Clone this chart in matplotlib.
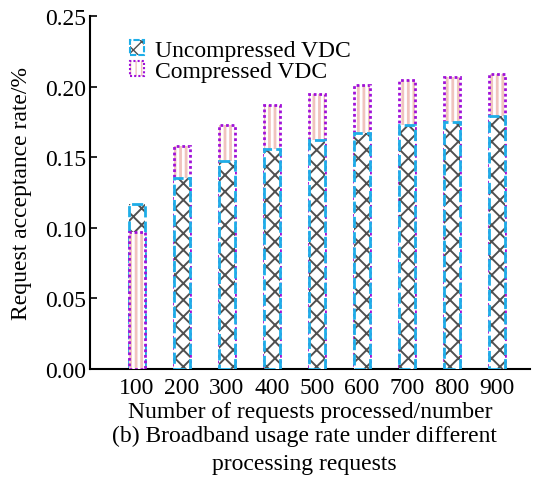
import numpy as np
import matplotlib
matplotlib.use('Agg')
import matplotlib.pyplot as plt
from matplotlib.patches import Patch

plt.rcParams['font.family'] = ['Liberation Serif', 'DejaVu Serif']
plt.rcParams['font.size'] = 17

# data
requests = ['100', '200', '300', '400', '500', '600', '700', '800', '900']
uncompressed = [0.117, 0.135, 0.147, 0.156, 0.162, 0.167, 0.173, 0.175, 0.179]
compressed = [0.097, 0.158, 0.173, 0.187, 0.195, 0.201, 0.205, 0.207, 0.209]

cyan = '#1eaee8'
purple = '#a010d8'
pink = '#f0c4be'
gray = '#505050'
width = 0.36

fig = plt.figure(figsize=(5.42, 4.85), dpi=100)
ax = fig.add_axes([90/542, 1-370/485, 440/542, 353/485])

x = np.arange(len(requests))


def draw_bar(xi, h, kind, z):
    if kind == 'u':
        with plt.rc_context({'hatch.linewidth': 1.4}):
            ax.bar(xi, h, width, facecolor='white', edgecolor=gray, hatch='xx',
                   linewidth=0, zorder=z)
        ax.bar(xi, h, width, fill=False, edgecolor=cyan, linestyle=(0, (4, 1.5)),
               linewidth=2, zorder=z + 0.5)
    else:
        with plt.rc_context({'hatch.linewidth': 2.0}):
            ax.bar(xi, h, width, facecolor='white', edgecolor=pink, hatch='|||',
                   linewidth=0, zorder=z)
        ax.bar(xi, h, width, fill=False, edgecolor=purple, linestyle=(0, (1, 1)),
               linewidth=2, zorder=z + 0.5)


for xi, u, c in zip(x, uncompressed, compressed):
    # taller bar behind, shorter bar in front
    if u >= c:
        draw_bar(xi, u, 'u', 2)
        draw_bar(xi, c, 'c', 3)
    else:
        draw_bar(xi, c, 'c', 2)
        draw_bar(xi, u, 'u', 3)

ax.set_xlim(-1.04, 8.73)
ax.set_ylim(0, 0.25)
ax.set_yticks(np.arange(0, 0.26, 0.05))
ax.set_yticklabels(['%.2f' % v for v in np.arange(0, 0.26, 0.05)])
ax.set_xticks(x)
ax.set_xticklabels(requests)
ax.tick_params(axis='x', length=0, pad=6)
ax.tick_params(axis='y', direction='in', length=5, width=1.2, pad=3)
for s in ['top', 'right']:
    ax.spines[s].set_visible(False)
for s in ['left', 'bottom']:
    ax.spines[s].set_linewidth(1.5)

ax.set_ylabel('Request acceptance rate/%', labelpad=9)
ax.set_xlabel('Number of requests processed/number', labelpad=2)
fig.text(304/542, 1-426/485,
         '(b) Broadband usage rate under different\nprocessing requests',
         ha='center', va='top', multialignment='center', linespacing=1.4)

with plt.rc_context({'hatch.linewidth': 1.4}):
    hu1 = Patch(facecolor='white', edgecolor=gray, hatch='xx', linewidth=0)
with plt.rc_context({'hatch.linewidth': 2.0}):
    hc1 = Patch(facecolor='white', edgecolor=pink, hatch='|||', linewidth=0)
hu2 = Patch(fill=False, edgecolor=cyan, linestyle=(0, (3, 1)), linewidth=1.5)
hc2 = Patch(fill=False, edgecolor=purple, linestyle=(0, (1, 1)), linewidth=1.5)

ax.legend([(hu1, hu2), (hc1, hc2)], ['Uncompressed VDC', 'Compressed VDC'],
          loc='upper left', bbox_to_anchor=(0.07, 0.96), frameon=False,
          handlelength=0.6, handleheight=0.6, handletextpad=0.45,
          labelspacing=0.0, borderaxespad=0)

fig.savefig('out.png', dpi=100)
